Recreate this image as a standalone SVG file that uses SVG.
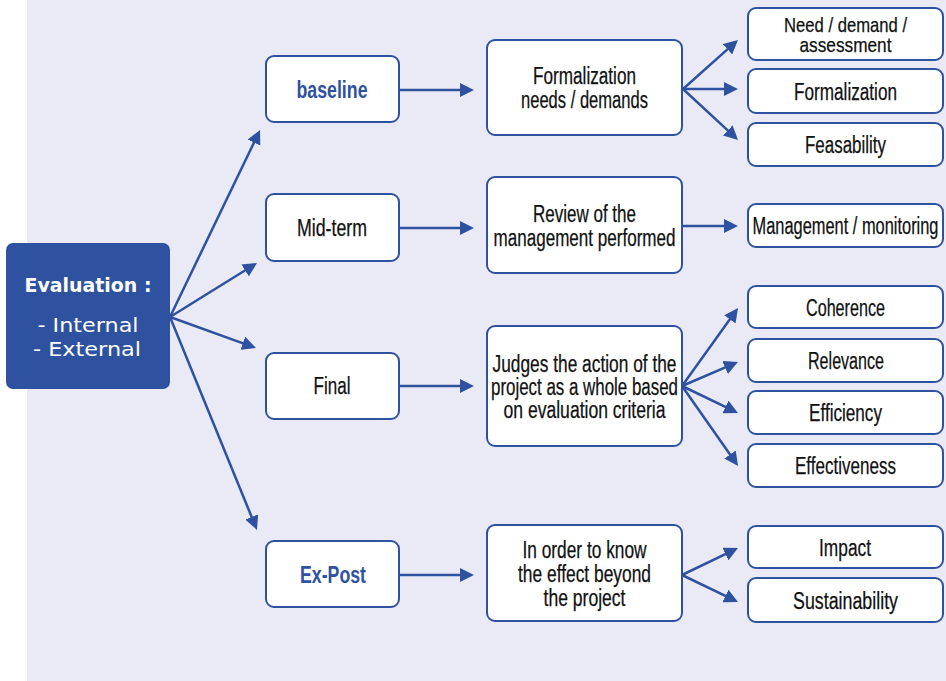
<svg xmlns="http://www.w3.org/2000/svg" width="946" height="681" viewBox="0 0 946 681">
<defs>
<marker id="ah" viewBox="0 0 14 14" refX="4" refY="7" markerWidth="14" markerHeight="14" markerUnits="userSpaceOnUse" orient="auto">
<path d="M0,0 L14,7 L0,14 z" fill="#2E52A0"/>
</marker>
<style>
.box{fill:#fff;stroke:#2E52A0;stroke-width:2}
.t{font-family:"Liberation Sans",Arial,sans-serif;font-size:23px;fill:#111;stroke:#111;stroke-width:0.25;text-anchor:middle}
.b{font-weight:bold;fill:#2E52A0;stroke:none}
.s{font-size:21px}
.w{font-family:"DejaVu Sans","Liberation Sans",sans-serif;font-size:20px;fill:#fff;text-anchor:middle}
.c line{stroke:#2E52A0;stroke-width:2.5;marker-end:url(#ah)}
</style>
</defs>
<rect x="0" y="0" width="946" height="681" fill="#fff"/>
<rect x="27" y="0" width="919" height="681" fill="#EAEAF6"/>

<g class="c" id="connectors">
<line x1="170" y1="317" x2="255.7" y2="139"/>
<line x1="170" y1="317" x2="248.5" y2="268.3"/>
<line x1="170" y1="317" x2="246.6" y2="344.6"/>
<line x1="170" y1="317" x2="253.2" y2="520.7"/>
<line x1="399" y1="90" x2="464" y2="90"/>
<line x1="399" y1="228" x2="464" y2="228"/>
<line x1="399" y1="386" x2="464" y2="386"/>
<line x1="399" y1="575" x2="464" y2="575"/>
<line x1="683" y1="89" x2="730.5" y2="46.6"/>
<line x1="683" y1="89" x2="728" y2="89"/>
<line x1="683" y1="89" x2="730.7" y2="133.2"/>
<line x1="682" y1="226" x2="728" y2="226"/>
<line x1="682" y1="386" x2="732.2" y2="316.1"/>
<line x1="682" y1="386" x2="728.8" y2="365.9"/>
<line x1="682" y1="386" x2="729" y2="408.7"/>
<line x1="682" y1="386" x2="732.3" y2="457.8"/>
<line x1="682" y1="575" x2="729" y2="552.3"/>
<line x1="682" y1="575" x2="729" y2="597.7"/>
</g>

<g id="evaluation">
<rect x="6" y="243" width="164" height="146" rx="7" fill="#2E52A0"/>
<text class="w" x="88" y="292" font-weight="bold" textLength="127" lengthAdjust="spacingAndGlyphs">Evaluation :</text>
<text class="w" x="88" y="332" textLength="101" lengthAdjust="spacingAndGlyphs">- Internal</text>
<text class="w" x="87" y="356" textLength="108" lengthAdjust="spacingAndGlyphs">- External</text>
</g>

<g id="baseline">
<rect class="box" x="266" y="56" width="133" height="66" rx="8"/>
<text class="t b" x="332" y="98" textLength="71" lengthAdjust="spacingAndGlyphs">baseline</text>
</g>
<g id="midterm">
<rect class="box" x="266" y="194" width="133" height="67" rx="8"/>
<text class="t" x="332" y="236" textLength="70" lengthAdjust="spacingAndGlyphs">Mid-term</text>
</g>
<g id="final">
<rect class="box" x="266" y="353" width="133" height="66" rx="8"/>
<text class="t" x="332" y="394" textLength="37" lengthAdjust="spacingAndGlyphs">Final</text>
</g>
<g id="expost">
<rect class="box" x="266" y="541" width="133" height="66" rx="8"/>
<text class="t b" x="333" y="583" textLength="66" lengthAdjust="spacingAndGlyphs">Ex-Post</text>
</g>

<g id="formalization-needs">
<rect class="box" x="487" y="40" width="195" height="95" rx="8"/>
<text class="t" x="584.5" y="84" textLength="103" lengthAdjust="spacingAndGlyphs">Formalization</text>
<text class="t" x="584.5" y="108" textLength="127" lengthAdjust="spacingAndGlyphs">needs / demands</text>
</g>
<g id="review">
<rect class="box" x="487" y="177" width="195" height="96" rx="8"/>
<text class="t" x="584.5" y="222" textLength="103" lengthAdjust="spacingAndGlyphs">Review of the</text>
<text class="t" x="584.5" y="246" textLength="182" lengthAdjust="spacingAndGlyphs">management performed</text>
</g>
<g id="judges">
<rect class="box" x="487" y="326" width="195" height="120" rx="8"/>
<text class="t" x="584.5" y="372" textLength="184" lengthAdjust="spacingAndGlyphs">Judges the action of the</text>
<text class="t" x="584.5" y="395" textLength="187" lengthAdjust="spacingAndGlyphs">project as a whole based</text>
<text class="t" x="584.5" y="418" textLength="162" lengthAdjust="spacingAndGlyphs">on evaluation criteria</text>
</g>
<g id="inorder">
<rect class="box" x="487" y="525" width="195" height="96" rx="8"/>
<text class="t" x="584.5" y="558" textLength="124" lengthAdjust="spacingAndGlyphs">In order to know</text>
<text class="t" x="584.5" y="582" textLength="133" lengthAdjust="spacingAndGlyphs">the effect beyond</text>
<text class="t" x="584.5" y="606" textLength="82" lengthAdjust="spacingAndGlyphs">the project</text>
</g>

<g id="need-demand">
<rect class="box" x="748" y="8" width="195" height="52" rx="8"/>
<text class="t s" x="845.5" y="32" textLength="123" lengthAdjust="spacingAndGlyphs">Need / demand /</text>
<text class="t s" x="845.5" y="52" textLength="92" lengthAdjust="spacingAndGlyphs">assessment</text>
</g>
<g id="formalization">
<rect class="box" x="748" y="69" width="195" height="44" rx="8"/>
<text class="t" x="845.5" y="100" textLength="103" lengthAdjust="spacingAndGlyphs">Formalization</text>
</g>
<g id="feasability">
<rect class="box" x="748" y="123" width="195" height="43" rx="8"/>
<text class="t" x="845.5" y="153" textLength="81" lengthAdjust="spacingAndGlyphs">Feasability</text>
</g>
<g id="management">
<rect class="box" x="748" y="204" width="195" height="43" rx="8"/>
<text class="t" x="845.5" y="234" textLength="186" lengthAdjust="spacingAndGlyphs">Management / monitoring</text>
</g>
<g id="coherence">
<rect class="box" x="748" y="286" width="195" height="42" rx="8"/>
<text class="t" x="845.5" y="316" textLength="79" lengthAdjust="spacingAndGlyphs">Coherence</text>
</g>
<g id="relevance">
<rect class="box" x="748" y="339" width="195" height="43" rx="8"/>
<text class="t" x="846" y="369" textLength="76" lengthAdjust="spacingAndGlyphs">Relevance</text>
</g>
<g id="efficiency">
<rect class="box" x="748" y="391" width="195" height="43" rx="8"/>
<text class="t" x="845.5" y="421" textLength="73" lengthAdjust="spacingAndGlyphs">Efficiency</text>
</g>
<g id="effectiveness">
<rect class="box" x="748" y="444" width="195" height="43" rx="8"/>
<text class="t" x="845.5" y="474" textLength="101" lengthAdjust="spacingAndGlyphs">Effectiveness</text>
</g>
<g id="impact">
<rect class="box" x="748" y="526" width="195" height="42" rx="8"/>
<text class="t" x="845" y="556" textLength="52" lengthAdjust="spacingAndGlyphs">Impact</text>
</g>
<g id="sustainability">
<rect class="box" x="748" y="578" width="195" height="44" rx="8"/>
<text class="t" x="845.5" y="609" textLength="105" lengthAdjust="spacingAndGlyphs">Sustainability</text>
</g>
</svg>
